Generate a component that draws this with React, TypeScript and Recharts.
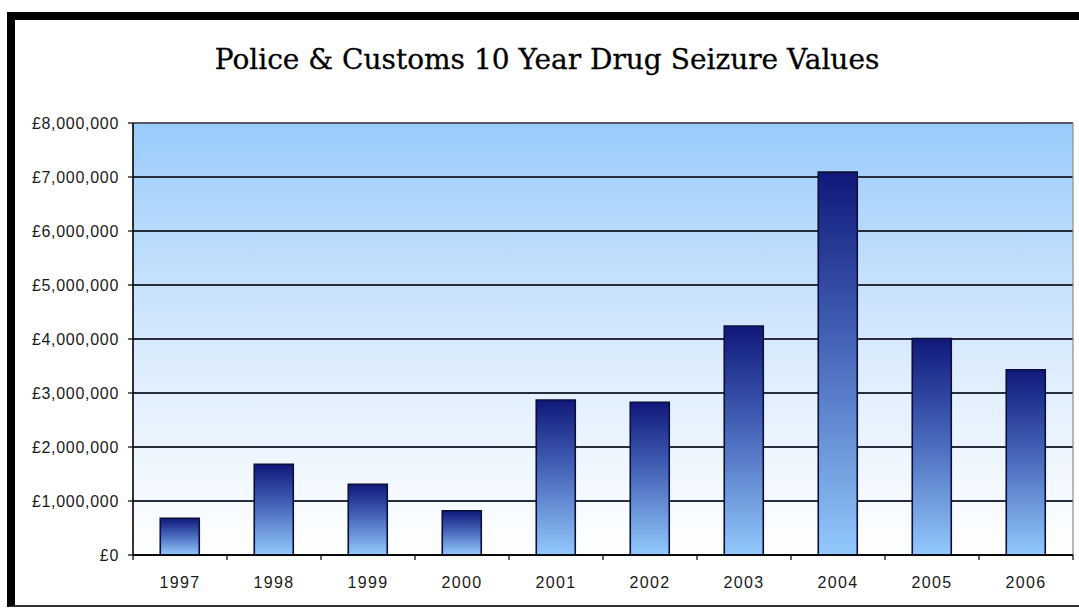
import { BarChart, Bar, XAxis, YAxis, CartesianGrid } from 'recharts'

const years = ['1997', '1998', '1999', '2000', '2001', '2002', '2003', '2004', '2005', '2006']
const seizureValues = [680000, 1680000, 1310000, 820000, 2870000, 2830000, 4240000, 7090000, 4010000, 3430000]
const valueTicks = [0, 1000000, 2000000, 3000000, 4000000, 5000000, 6000000, 7000000, 8000000]

const data = years.map((year, i) => ({ year, value: seizureValues[i] }))

const CHART_W = 1079
const CHART_H = 608
const margin = { top: 123, right: 6, bottom: 22, left: 13 }
const Y_AXIS_W = 120
const X_AXIS_H = 31

const labelFont = {
  fontFamily: '"Liberation Sans", Arial, sans-serif',
  fontSize: 16,
  letterSpacing: 0.7,
  fill: '#1a1a1a',
}

const pounds = (v: number) => (v === 0 ? '£0' : '£' + v.toLocaleString('en-GB'))

// Year label with a tick mark on the left edge of its band (and on the right edge for the last one)
const YearTick = (props: any) => {
  const { x, y, payload, index } = props
  const half = payload?.offset ?? (CHART_W - margin.left - margin.right - Y_AXIS_W) / years.length / 2
  const top = y - 22
  return (
    <g>
      <line x1={x - half} x2={x - half} y1={top} y2={top + 5} stroke="#000" strokeWidth={1.2} />
      {index === years.length - 1 && (
        <line x1={x + half} x2={x + half} y1={top} y2={top + 5} stroke="#000" strokeWidth={1.2} />
      )}
      <text x={x} y={y} dy="0.71em" textAnchor="middle" {...labelFont} letterSpacing={1.4}>
        {payload.value}
      </text>
    </g>
  )
}

export default function App() {
  return (
    <div style={{ position: 'absolute', left: 0, top: 0, width: CHART_W, height: CHART_H, background: '#fff', overflow: 'hidden' }}>
      <div
        style={{
          position: 'absolute',
          left: 7,
          top: 12,
          width: CHART_W - 7,
          height: 595,
          boxSizing: 'border-box',
          borderTop: '8px solid #000',
          borderLeft: '8px solid #000',
          borderBottom: '2px solid #333',
          background: '#fff',
        }}
      />
      <div
        style={{
          position: 'absolute',
          left: 15,
          top: 44,
          width: CHART_W - 15,
          textAlign: 'center',
          fontFamily: '"DejaVu Serif", serif',
          fontSize: 28,
          lineHeight: '32px',
          color: '#000',
          WebkitTextStroke: '0.3px #000',
        }}
      >
        Police &amp; Customs 10 Year Drug Seizure Values
      </div>
      <div style={{ position: 'absolute', left: 0, top: 0 }}>
        <BarChart width={CHART_W} height={CHART_H} data={data} margin={margin} barCategoryGap="29%">
          <defs>
            <linearGradient id="plotBg" x1="0" y1="0" x2="0" y2="1">
              <stop offset="0%" stopColor="#99cbfb" />
              <stop offset="55%" stopColor="#dcecfd" />
              <stop offset="100%" stopColor="#ffffff" />
            </linearGradient>
            <linearGradient id="barFill" x1="0" y1="0" x2="0" y2="1">
              <stop offset="0%" stopColor="#10187a" />
              <stop offset="40%" stopColor="#3f5cb2" />
              <stop offset="100%" stopColor="#93c9fd" />
            </linearGradient>
          </defs>
          <CartesianGrid vertical={false} stroke="#262d3c" strokeWidth={1.8} fill="url(#plotBg)" fillOpacity={1} />
          <CartesianGrid
            stroke="#8a8a8a"
            strokeWidth={1.2}
            horizontalCoordinatesGenerator={({ offset }: any) => [offset.top]}
            verticalCoordinatesGenerator={({ offset }: any) => [offset.left + offset.width]}
          />
          <XAxis
            dataKey="year"
            height={X_AXIS_H}
            axisLine={{ stroke: '#000', strokeWidth: 1.6 }}
            tickLine={false}
            tickMargin={0}
            tickSize={0}
            interval={0}
            tick={(p: any) => <YearTick {...p} y={p.y + 22} />}
          />
          <YAxis
            width={Y_AXIS_W}
            domain={[0, 8000000]}
            ticks={valueTicks}
            interval={0}
            tickFormatter={pounds}
            axisLine={{ stroke: '#000', strokeWidth: 1.6 }}
            tickLine={{ stroke: '#000', strokeWidth: 1.2 }}
            tickSize={5}
            tickMargin={9}
            tick={labelFont}
          />
          <Bar dataKey="value" fill="url(#barFill)" stroke="#0b0f3a" strokeWidth={1.6} isAnimationActive={false} />
        </BarChart>
      </div>
    </div>
  )
}
